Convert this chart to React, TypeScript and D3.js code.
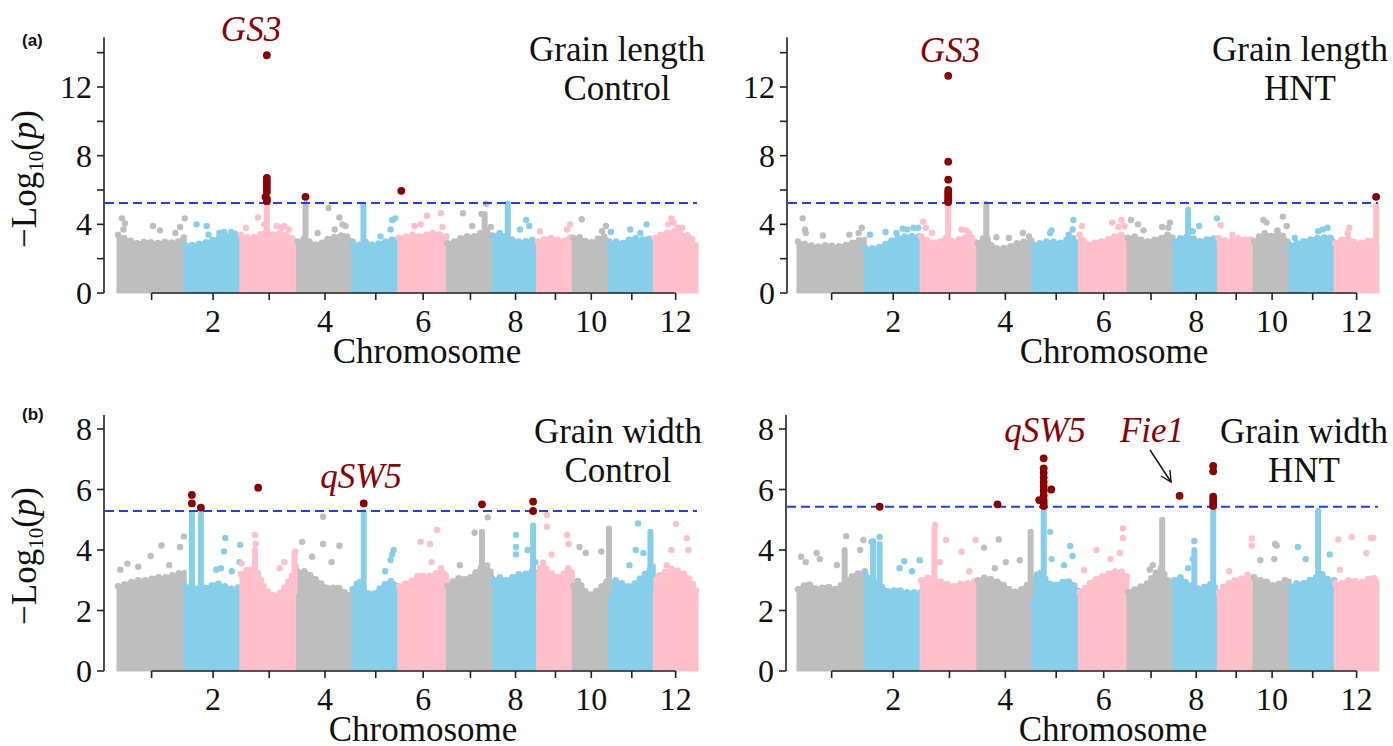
import React from "react";
import * as d3 from "d3";

const W = 1393;
const H = 746;

// ---------- data ----------
const chromosomes = [1, 2, 3, 4, 5, 6, 7, 8, 9, 10, 11, 12];
const chromLengthsMb = [43.3, 35.9, 36.4, 35.5, 29.9, 31.2, 29.7, 28.4, 23.0, 23.2, 29.0, 27.5];
const chromColors = ["#bebebe", "#87ceeb", "#ffc0cb"];
const sigColor = "#8b0000";

// Upper edge of the dense SNP band, 8 evenly spaced samples per chromosome (-log10 p)
const envGLControl = [
  [3.4, 3.1, 2.9, 3.0, 2.9, 3.0, 2.9, 3.3],
  [2.8, 2.8, 2.9, 3.0, 3.2, 3.3, 3.3, 3.2],
  [3.4, 3.2, 3.3, 3.6, 3.4, 3.5, 3.3, 3.0],
  [3.0, 3.2, 2.8, 2.9, 3.2, 3.3, 3.4, 3.0],
  [2.9, 2.8, 3.0, 2.8, 2.9, 3.0, 3.1, 3.2],
  [3.2, 3.3, 3.4, 3.3, 3.4, 3.5, 3.4, 3.3],
  [2.9, 3.0, 3.2, 3.3, 3.3, 3.5, 3.6, 3.3],
  [3.3, 3.5, 3.3, 3.1, 3.0, 3.0, 3.1, 3.0],
  [3.0, 3.1, 3.2, 3.2, 3.1, 3.0, 3.2, 3.3],
  [3.2, 3.3, 3.1, 2.9, 3.0, 3.2, 3.3, 3.0],
  [2.9, 3.0, 2.9, 3.1, 3.2, 3.1, 3.2, 3.0],
  [3.2, 3.4, 3.5, 3.6, 3.5, 3.4, 3.3, 2.6],
];
const envGLHNT = [
  [3.0, 2.8, 2.7, 2.8, 2.7, 2.8, 3.0, 3.2],
  [2.6, 2.6, 2.7, 3.0, 3.2, 3.3, 3.3, 3.3],
  [3.3, 3.0, 2.9, 3.2, 3.0, 3.2, 3.3, 3.0],
  [2.9, 3.3, 2.6, 2.6, 2.7, 2.9, 3.0, 3.1],
  [2.8, 2.9, 3.0, 3.0, 2.9, 3.1, 3.2, 2.9],
  [3.4, 2.8, 2.9, 3.0, 3.1, 3.3, 3.4, 3.2],
  [3.2, 3.3, 3.1, 3.0, 3.1, 3.2, 3.4, 3.3],
  [3.0, 3.2, 3.3, 3.2, 3.0, 3.1, 3.2, 3.1],
  [3.2, 3.1, 3.0, 3.1, 3.2, 3.1, 3.2, 3.0],
  [3.0, 3.3, 3.5, 3.3, 3.4, 3.5, 3.2, 2.8],
  [2.8, 2.9, 3.0, 3.1, 3.2, 3.2, 3.3, 3.0],
  [2.9, 3.1, 3.2, 3.0, 2.9, 3.0, 3.1, 2.9],
];
const envGWControl = [
  [2.8, 2.9, 3.0, 3.0, 3.1, 3.1, 3.2, 3.3],
  [2.8, 2.8, 2.7, 2.8, 2.9, 2.8, 2.7, 2.8],
  [3.2, 3.4, 3.3, 2.7, 2.5, 2.6, 3.0, 3.5],
  [3.3, 3.3, 3.1, 2.9, 2.7, 2.8, 2.6, 2.5],
  [2.7, 3.0, 2.6, 2.5, 2.7, 2.9, 3.0, 2.6],
  [2.8, 2.9, 3.0, 3.2, 3.1, 3.2, 3.3, 3.2],
  [2.8, 3.0, 3.1, 3.0, 3.2, 3.4, 3.5, 3.1],
  [3.0, 3.1, 3.0, 3.1, 3.2, 3.2, 3.3, 3.3],
  [3.2, 3.6, 3.3, 3.2, 3.1, 3.2, 3.4, 3.3],
  [2.8, 3.0, 2.7, 2.5, 2.6, 2.7, 2.9, 3.0],
  [2.9, 3.0, 2.9, 2.8, 2.9, 3.1, 3.3, 3.5],
  [3.0, 3.2, 3.3, 3.4, 3.3, 3.2, 3.0, 2.6],
];
const envGWHNT = [
  [2.7, 2.9, 2.7, 2.8, 2.7, 3.0, 3.2, 3.3],
  [3.2, 3.0, 2.8, 2.6, 2.7, 2.6, 2.6, 2.6],
  [3.0, 3.1, 3.0, 2.9, 2.8, 2.9, 2.9, 3.0],
  [3.0, 3.1, 3.0, 2.9, 2.7, 2.6, 2.8, 3.0],
  [3.0, 3.3, 3.0, 2.8, 2.9, 3.0, 2.9, 2.6],
  [2.6, 2.8, 3.0, 3.1, 3.2, 3.3, 3.3, 3.1],
  [2.6, 2.7, 2.8, 2.9, 3.2, 3.4, 3.0, 2.9],
  [3.0, 3.1, 2.9, 2.8, 2.7, 2.8, 2.9, 2.6],
  [2.6, 2.8, 2.9, 3.0, 3.0, 3.1, 3.2, 3.0],
  [3.1, 3.0, 3.0, 2.9, 2.8, 2.9, 3.0, 3.0],
  [2.8, 2.9, 2.9, 3.0, 3.1, 3.2, 3.0, 3.0],
  [2.9, 2.9, 3.0, 3.0, 2.9, 3.0, 3.1, 3.0],
];

// isolated SNPs above the band: [chromosome, position Mb, -log10 p]
const outGLControl = [
  [1, 2.6, 4.35], [1, 4.5, 4.05], [1, 3.5, 3.7], [1, 22.5, 3.9], [1, 27, 3.65], [1, 40, 3.85], [1, 43, 4.35], [1, 37, 3.5],
  [2, 7.3, 4.0], [2, 13.8, 3.9], [2, 15, 3.4], [2, 22, 3.5], [2, 25, 3.55], [2, 29.5, 3.55], [2, 32, 3.45],
  [3, 3.2, 3.8], [3, 11, 4.4], [3, 15, 4.0], [3, 23, 3.9], [3, 26, 3.8], [3, 28, 3.9], [3, 31, 3.7],
  [4, 13, 3.5], [4, 20, 4.95], [4, 27, 4.4], [4, 29, 4.0], [4, 24, 3.7], [4, 31, 3.9],
  [5, 25.5, 4.25], [5, 27.5, 4.35], [5, 24.5, 3.7], [5, 18, 3.3],
  [6, 10, 3.9], [6, 18, 4.5], [6, 27, 4.65], [6, 28, 3.85], [6, 14, 4.0],
  [7, 10, 4.65], [7, 22, 4.6], [7, 25, 5.2], [7, 28, 3.85], [7, 16, 3.9],
  [8, 21, 4.25], [8, 23, 3.9], [8, 17, 3.7],
  [9, 1.5, 3.6], [9, 21, 4.0], [9, 19, 3.7],
  [10, 5.5, 4.3], [10, 18.5, 3.6], [10, 21, 3.9],
  [11, 1, 3.55], [11, 13.5, 3.7], [11, 24, 4.0], [11, 20, 3.5],
  [12, 11, 4.35], [12, 12.5, 4.1], [12, 15, 3.8], [12, 9, 4.0], [12, 18, 3.8],
];
const outGLHNT = [
  [1, 3, 4.35], [1, 4.5, 3.7], [1, 5, 3.5], [1, 16, 3.35], [1, 33, 3.4], [1, 41, 3.8], [1, 39, 3.5],
  [2, 3, 3.4], [2, 13, 3.55], [2, 24, 3.75], [2, 27, 3.7], [2, 31, 3.8], [2, 34, 3.8], [2, 20, 3.5],
  [3, 1.3, 4.15], [3, 3, 3.8], [3, 7, 3.5], [3, 29, 3.65], [3, 31, 3.45], [3, 26, 3.7],
  [4, 12, 3.25], [4, 29, 3.5], [4, 20, 3.2], [4, 33, 3.3],
  [5, 12, 3.65], [5, 11, 3.5], [5, 26, 4.25], [5, 25.5, 3.7], [5, 23, 3.4],
  [6, 1.5, 3.9], [6, 21, 4.1], [6, 27, 4.25], [6, 25, 3.85], [6, 29, 3.9],
  [7, 2, 4.25], [7, 6.5, 4.0], [7, 10, 3.65], [7, 22, 3.85], [7, 27, 4.1], [7, 26, 3.8],
  [8, 16, 3.9], [8, 27.5, 4.35], [8, 12, 3.6],
  [9, 1.5, 3.95], [9, 9, 3.4],
  [10, 6, 4.25], [10, 8, 4.1], [10, 18.5, 4.45], [10, 15, 3.65], [10, 21, 3.9],
  [11, 24, 3.8], [11, 18, 3.6], [11, 21, 3.7], [11, 3, 3.2],
  [12, 9, 3.8], [12, 8, 3.5],
];
const outGWControl = [
  [1, 1.5, 3.35], [1, 6, 3.55], [1, 13, 3.45], [1, 21, 3.8], [1, 28, 4.15], [1, 40, 4.1], [1, 42.5, 4.45], [1, 33, 3.5],
  [2, 25.8, 4.4], [2, 25, 3.95], [2, 35.4, 4.17], [2, 20, 3.35], [2, 23, 3.4], [2, 30, 3.3], [2, 35, 3.6],
  [3, 0.5, 3.55], [3, 9, 4.5], [3, 9.5, 4.2], [3, 28, 3.6], [3, 35, 3.95], [3, 25, 3.4],
  [4, 3, 4.27], [4, 16.5, 5.1], [4, 16.5, 4.2], [4, 27, 4.14], [4, 22, 3.6], [4, 9.5, 3.78],
  [5, 26.5, 4.0], [5, 25.5, 3.85], [5, 24.5, 3.67], [5, 21, 3.3],
  [6, 14, 4.27], [6, 20, 4.2], [6, 24.5, 4.66], [6, 21, 3.6], [6, 27, 3.4],
  [7, 17.5, 4.57], [7, 26, 5.08], [7, 8, 3.5],
  [8, 14.5, 4.5], [8, 14.5, 4.1], [8, 14.5, 3.85], [8, 22, 4.0], [8, 27, 3.6],
  [9, 6, 5.16], [9, 6, 4.77], [9, 19, 4.5], [9, 20, 4.2], [9, 9, 3.85],
  [10, 4, 4.1], [10, 8, 3.9], [10, 18, 3.95],
  [11, 18.5, 4.88], [11, 17, 4.0], [11, 22, 3.9], [11, 13, 3.5],
  [12, 14, 4.86], [12, 21, 4.39], [12, 22, 4.0], [12, 11, 4.0], [12, 8, 3.5],
];
const outGWHNT = [
  [1, 2, 3.78], [1, 5, 3.6], [1, 12, 3.9], [1, 14, 3.7], [1, 31, 4.46], [1, 42, 4.33], [1, 40, 4.0], [1, 25, 3.5],
  [2, 9.2, 4.43], [2, 4, 4.27], [2, 25, 3.63], [2, 35, 3.66], [2, 22, 3.4], [2, 30, 3.3],
  [3, 9, 4.83], [3, 16, 4.33], [3, 26, 3.94], [3, 35, 4.33], [3, 12, 3.6], [3, 31, 3.3],
  [4, 13.5, 4.35], [4, 4, 4.08], [4, 27, 3.66], [4, 18, 3.6], [4, 11, 3.4],
  [5, 11, 4.6], [5, 12, 3.7], [5, 24, 4.13], [5, 25.5, 3.8], [5, 20, 3.5],
  [6, 3, 3.33], [6, 11, 4.0], [6, 20, 3.7], [6, 28, 4.71], [6, 28, 4.4], [6, 26, 3.9],
  [7, 22, 4.99], [7, 16, 3.5], [7, 14, 3.35],
  [8, 13, 4.3], [8, 12, 3.7], [8, 9, 3.4],
  [9, 21.5, 4.38], [9, 21.5, 4.15], [9, 7, 3.3],
  [10, 13.5, 4.2], [10, 14.5, 4.15], [10, 4, 3.66], [10, 13, 3.7],
  [11, 5, 4.1], [11, 10, 3.7], [11, 25.5, 3.85],
  [12, 10.5, 4.43], [12, 2, 4.35], [12, 23, 4.4], [12, 24.5, 4.4], [12, 20, 3.9], [12, 3, 3.35],
];

// dense vertical stacks of SNPs (peaks): [chromosome, position Mb, top -log10 p]
const colGLControl = [[3, 16.7, 5.1], [4, 5.2, 5.2], [5, 7, 5.1], [7, 24, 4.6], [8, 9.2, 5.2]];
const colGLHNT = [[3, 17.4, 5.0], [4, 5.5, 5.2], [8, 9, 4.85], [12, 26.3, 5.1]];
const colGWControl = [[2, 4.3, 5.2], [2, 10.1, 5.2], [3, 9, 4.0], [3, 34.5, 3.9], [5, 7.2, 5.25], [7, 22.3, 4.6], [8, 25.5, 4.81], [10, 23, 4.71], [11, 26.5, 4.6]];
const colGWHNT = [[1, 30, 4.0], [2, 5, 4.3], [2, 9.2, 4.2], [3, 8.5, 4.7], [4, 34, 4.6], [5, 6.9, 5.27], [7, 22, 4.9], [8, 13, 4.0], [8, 25.1, 5.27], [11, 18, 5.3]];

// significant SNPs (above threshold)
const sigGLControl = [
  [3, 16.7, 13.85], [3, 16.7, 6.7], [3, 16.7, 6.5], [3, 16.7, 6.3], [3, 16.7, 6.1], [3, 16.7, 5.9],
  [3, 15.8, 5.6], [3, 16.7, 5.5], [3, 16.7, 5.35], [4, 5.2, 5.6], [6, 1.5, 5.95],
];
const sigGLHNT = [
  [3, 17.4, 12.65], [3, 17.4, 7.65], [3, 17.4, 6.6], [3, 17.4, 6.0], [3, 17.4, 5.85], [3, 17.4, 5.7],
  [3, 17.4, 5.55], [3, 17.4, 5.4], [3, 17.4, 5.3], [12, 26.3, 5.6],
];
const sigGWControl = [
  [2, 4.3, 5.82], [2, 4.3, 5.54], [2, 10.1, 5.4], [3, 11.1, 6.06], [5, 7.2, 5.54], [7, 22.3, 5.51],
  [8, 25.5, 5.6], [8, 25.5, 5.29],
];
const sigGWHNT = [
  [2, 9.2, 5.43], [4, 12.7, 5.51], [5, 6.9, 7.03], [5, 6.9, 6.7], [5, 6.9, 6.55], [5, 6.9, 6.4],
  [5, 6.9, 6.25], [5, 6.9, 6.1], [5, 6.9, 5.95], [5, 6.9, 5.8], [5, 6.9, 5.65], [5, 6.9, 5.55],
  [5, 6.9, 5.45], [5, 11.8, 6.0], [5, 4.0, 5.65], [8, 3.5, 5.79], [8, 25.1, 6.78], [8, 25.1, 6.6],
  [8, 25.1, 5.76], [8, 25.1, 5.65], [8, 25.1, 5.55], [8, 25.1, 5.45],
];

const thrGLControl = 5.24;
const thrGLHNT = 5.24;
const thrGWControl = 5.29;
const thrGWHNT = 5.43;

const yTicksGL = [0, 2, 4, 6, 8, 10, 12, 14];
const yLabelsGL = [0, 4, 8, 12];
const yTicksGW = [0, 2, 4, 6, 8];
const yLabelsGW = [0, 2, 4, 6, 8];

// ---------- layout ----------
const SERIF = "'Liberation Serif', 'Times New Roman', serif";
const offsets = [0, ...d3.cumsum(chromLengthsMb)];
const genomeLen = offsets[12];

type Cfg = {
  env: number[][]; out: number[][]; cols: number[][]; sig: number[][]; thr: number;
  xr: [number, number]; axisX: number; yDom: [number, number]; yRange: [number, number];
  yTop: number; yTicks: number[]; yLabels: number[]; xLabelY: number;
  title: string[]; titleX: number; titleY: number[]; xTitle: [number, number];
  yTitle?: [number, number]; genes: { t: string; x: number; y: number }[];
};

const panels: Cfg[] = [
  {
    env: envGLControl, out: outGLControl, cols: colGLControl, sig: sigGLControl, thr: thrGLControl,
    xr: [118, 697], axisX: 104, yDom: [0, 12], yRange: [293, 87], yTop: 14.9, yTicks: yTicksGL, yLabels: yLabelsGL,
    xLabelY: 332, title: ["Grain length", "Control"], titleX: 617, titleY: [61, 100], xTitle: [427, 363],
    yTitle: [36, 179], genes: [{ t: "GS3", x: 251, y: 41 }],
  },
  {
    env: envGLHNT, out: outGLHNT, cols: colGLHNT, sig: sigGLHNT, thr: thrGLHNT,
    xr: [798, 1378], axisX: 787, yDom: [0, 12], yRange: [293, 87], yTop: 14.9, yTicks: yTicksGL, yLabels: yLabelsGL,
    xLabelY: 332, title: ["Grain length", "HNT"], titleX: 1300, titleY: [61, 100], xTitle: [1114, 363],
    genes: [{ t: "GS3", x: 950, y: 62 }],
  },
  {
    env: envGWControl, out: outGWControl, cols: colGWControl, sig: sigGWControl, thr: thrGWControl,
    xr: [118, 697], axisX: 104, yDom: [0, 8], yRange: [671, 429], yTop: 8.46, yTicks: yTicksGW, yLabels: yLabelsGW,
    xLabelY: 710, title: ["Grain width", "Control"], titleX: 618, titleY: [443, 482], xTitle: [423, 741],
    yTitle: [36, 556], genes: [{ t: "qSW5", x: 361, y: 488 }],
  },
  {
    env: envGWHNT, out: outGWHNT, cols: colGWHNT, sig: sigGWHNT, thr: thrGWHNT,
    xr: [798, 1378], axisX: 786, yDom: [0, 8], yRange: [671, 429], yTop: 8.46, yTicks: yTicksGW, yLabels: yLabelsGW,
    xLabelY: 710, title: ["Grain width", "HNT"], titleX: 1304, titleY: [443, 482], xTitle: [1113, 741],
    genes: [{ t: "qSW5", x: 1045, y: 442 }, { t: "Fie1", x: 1152, y: 442 }],
  },
];

function Panel({ c }: { c: Cfg }) {
  const x = d3.scaleLinear().domain([0, genomeLen]).range(c.xr);
  const y = d3.scaleLinear().domain(c.yDom).range(c.yRange);
  const gx = (chr: number, mb: number) => x(offsets[chr - 1] + mb);
  const col = (chr: number) => chromColors[(chr - 1) % 3];
  const area = d3
    .area<[number, number]>()
    .x((d) => x(d[0]))
    .y0(y(0))
    .y1((d) => y(d[1]));
  const edge = d3
    .line<[number, number]>()
    .x((d) => x(d[0]))
    .y((d) => y(d[1]));
  const centers = chromosomes.map((ch, i) => x(offsets[i] + chromLengthsMb[i] / 2));
  const y0 = y(0);
  return (
    <g>
      {/* dense SNP bands */}
      {chromosomes.map((ch, i) => {
        const e = c.env[i];
        const pts: [number, number][] = e.map((v, k) => [offsets[i] + (k / (e.length - 1)) * chromLengthsMb[i], v]);
        return (
          <g key={"a" + ch}>
            <path d={area(pts) || ""} fill={col(ch)} stroke={col(ch)} strokeWidth={3} strokeLinejoin="round" />
            <path d={edge(pts) || ""} fill="none" stroke={col(ch)} strokeWidth={6.5} strokeLinecap="round" strokeDasharray="0 7" />
          </g>
        );
      })}
      {/* re-clip bottom so stroke does not hang below zero */}
      <rect x={c.xr[0] - 4} y={y0 + 0.5} width={c.xr[1] - c.xr[0] + 8} height={4} fill="#fff" />
      {/* peak columns */}
      {c.cols.map((d, i) => (
        <line key={"c" + i} x1={gx(d[0], d[1])} x2={gx(d[0], d[1])} y1={y(2.6)} y2={y(d[2])}
          stroke={col(d[0])} strokeWidth={6} strokeLinecap="round" />
      ))}
      {/* outliers */}
      {c.out.map((d, i) => (
        <circle key={"o" + i} cx={gx(d[0], d[1])} cy={y(d[2])} r={3.2} fill={col(d[0])} />
      ))}
      {/* threshold */}
      <line x1={c.axisX + 1} x2={c.xr[1]} y1={y(c.thr)} y2={y(c.thr)} stroke="#1f3dff" strokeWidth={2} strokeDasharray="9,5" />
      {/* significant */}
      {c.sig.map((d, i) => (
        <circle key={"s" + i} cx={gx(d[0], d[1])} cy={y(d[2])} r={3.9} fill={sigColor} />
      ))}
      {/* y axis */}
      <line x1={c.axisX} x2={c.axisX} y1={y0} y2={y(c.yTop)} stroke="#222" strokeWidth={1.6} />
      {c.yTicks.map((t) => (
        <line key={"yt" + t} x1={c.axisX - 7} x2={c.axisX} y1={y(t)} y2={y(t)} stroke="#222" strokeWidth={1.6} />
      ))}
      {c.yLabels.map((t) => (
        <text key={"yl" + t} x={c.axisX - 12} y={y(t) + 11} textAnchor="end" fontFamily={SERIF} fontSize={32} fill="#111">
          {t}
        </text>
      ))}
      {/* x axis */}
      <line x1={centers[0]} x2={centers[11]} y1={y0} y2={y0} stroke="#222" strokeWidth={1.6} />
      {centers.map((cx, i) => (
        <line key={"xt" + i} x1={cx} x2={cx} y1={y0} y2={y0 + 7} stroke="#222" strokeWidth={1.6} />
      ))}
      {centers.map((cx, i) =>
        chromosomes[i] % 2 === 0 ? (
          <text key={"xl" + i} x={cx} y={c.xLabelY} textAnchor="middle" fontFamily={SERIF} fontSize={32} fill="#111">
            {chromosomes[i]}
          </text>
        ) : null
      )}
      <text x={c.xTitle[0]} y={c.xTitle[1]} textAnchor="middle" fontFamily={SERIF} fontSize={35} fill="#111">
        Chromosome
      </text>
      {c.yTitle && (
        <text transform={`translate(${c.yTitle[0]},${c.yTitle[1]}) rotate(-90)`} textAnchor="middle" fontFamily={SERIF} fontSize={35} fill="#111">
          −Log<tspan fontSize={21} dy={7}>10</tspan><tspan dy={-7}>(</tspan><tspan fontStyle="italic">p</tspan>)
        </text>
      )}
      {c.title.map((t, i) => (
        <text key={"t" + i} x={c.titleX} y={c.titleY[i]} textAnchor="middle" fontFamily={SERIF} fontSize={35} fill="#111">
          {t}
        </text>
      ))}
      {c.genes.map((g) => (
        <text key={g.t} x={g.x} y={g.y} textAnchor="middle" fontFamily={SERIF} fontStyle="italic" fontSize={35} fill={sigColor}>
          {g.t}
        </text>
      ))}
    </g>
  );
}

export default function App() {
  return (
    <svg width={W} height={H} style={{ display: "block", position: "absolute", left: 0, top: 0, background: "#fff" }}>
      <rect width={W} height={H} fill="#fff" />
      {panels.map((p, i) => (
        <Panel key={i} c={p} />
      ))}
      <text x={22} y={46} fontFamily="'Liberation Sans', Arial, sans-serif" fontWeight="bold" fontSize={17} fill="#111">(a)</text>
      <text x={22} y={420} fontFamily="'Liberation Sans', Arial, sans-serif" fontWeight="bold" fontSize={17} fill="#111">(b)</text>
      {/* Fie1 arrow */}
      <line x1={1150} y1={450} x2={1171} y2={482} stroke="#111" strokeWidth={1.4} />
      <path d="M1161,476 L1171,482 L1170,470" fill="none" stroke="#111" strokeWidth={1.4} />
    </svg>
  );
}
